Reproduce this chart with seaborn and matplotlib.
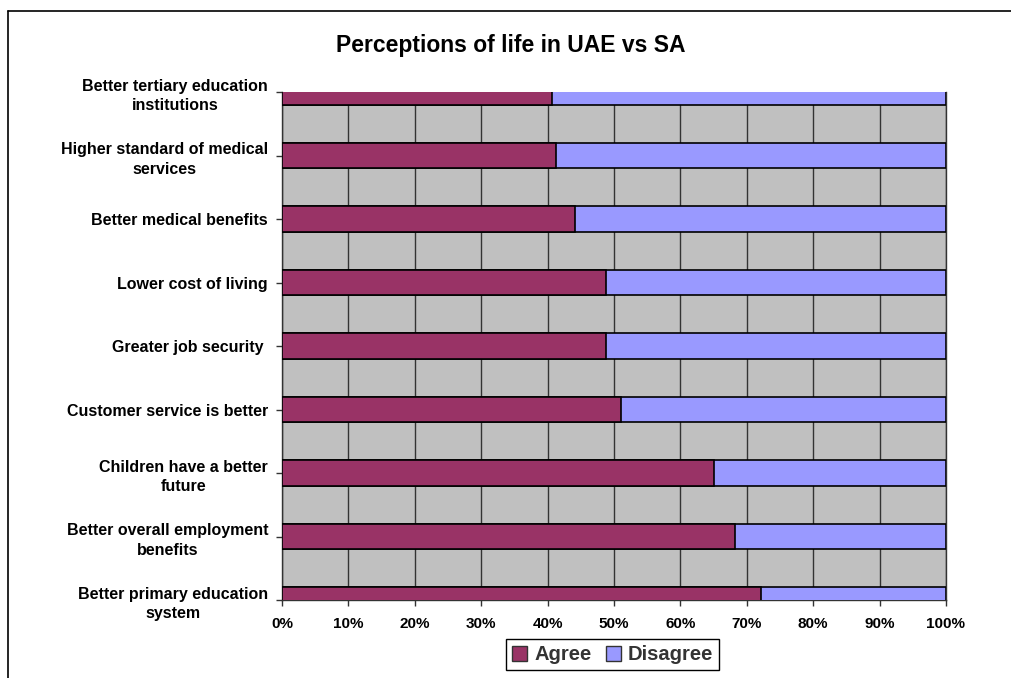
import pandas as pd
import seaborn as sns
import matplotlib.pyplot as plt
from matplotlib.patches import Patch
from matplotlib.lines import Line2D

# --- data (top to bottom) ---
statements = [
    "Better tertiary education\ninstitutions",
    "Higher standard of medical\nservices",
    "Better medical benefits",
    "Lower cost of living",
    "Greater job security ",
    "Customer service is better",
    "Children have a better\nfuture",
    "Better overall employment\nbenefits",
    "Better primary education\nsystem",
]
agree = [40.6, 41.3, 44.2, 48.8, 48.8, 51.0, 65.0, 68.3, 72.2]
disagree = [59.4, 58.7, 55.8, 51.2, 51.2, 49.0, 35.0, 31.7, 27.8]
x_ticks = [0, 10, 20, 30, 40, 50, 60, 70, 80, 90, 100]

agree_col = "#993366"
disagree_col = "#9999FF"

df = pd.DataFrame({"statement": statements, "agree": agree, "disagree": disagree})
df["total"] = df["agree"] + df["disagree"]

sns.set_style("white")
plt.rcParams["font.family"] = ["Liberation Sans", "DejaVu Sans"]
plt.rcParams["text.color"] = "black"
plt.rcParams["xtick.color"] = "black"
plt.rcParams["ytick.color"] = "black"

fig = plt.figure(figsize=(10.11, 6.78), dpi=100)
ax = fig.add_axes([0.2789, 0.1150, 0.6568, 0.7493])
ax.set_facecolor("#C0C0C0")

# --- stacked bars: full bar in disagree colour, agree drawn over it ---
sns.barplot(data=df, y="statement", x="total", color=disagree_col,
            width=0.4, edgecolor="black", linewidth=1.2, saturation=1, ax=ax, zorder=3)
sns.barplot(data=df, y="statement", x="agree", color=agree_col,
            width=0.4, edgecolor="black", linewidth=1.2, saturation=1, ax=ax, zorder=4)

ax.set_xlim(0, 100)
ax.set_ylim(len(statements) - 1, 0)
ax.set_xticks(x_ticks)
ax.set_xticklabels([f"{t}%" for t in x_ticks], fontsize=11, fontweight="bold")
ax.set_yticks(range(len(statements)))
ax.set_yticklabels(statements, fontsize=11.5, fontweight="bold",
                   multialignment="center", linespacing=1.4)
ax.set_xlabel("")
ax.set_ylabel("")
ax.grid(axis="x", color="#333333", linewidth=1, zorder=1)
ax.set_axisbelow(True)
ax.tick_params(axis="both", length=4, width=1, color="#333333", direction="out",
               left=True, bottom=True)
ax.tick_params(axis="x", pad=8)
ax.tick_params(axis="y", pad=6)
for s in ax.spines.values():
    s.set_color("#333333")
    s.set_linewidth(1)
ax.spines["top"].set_visible(False)

fig.text(0.505, 0.933, "Perceptions of life in UAE vs SA", ha="center", va="center",
         fontsize=16.5, fontweight="bold")

# outer chart frame (only left and top edges fall inside the image)
fig.add_artist(Line2D([0.0079, 0.0079], [0.0, 0.984], color="black", linewidth=1.2))
fig.add_artist(Line2D([0.0079, 1.0], [0.984, 0.984], color="black", linewidth=1.2))

handles = [Patch(facecolor=agree_col, edgecolor="#333333", label="Agree"),
           Patch(facecolor=disagree_col, edgecolor="#333333", label="Disagree")]
leg = fig.legend(handles=handles, loc="center", bbox_to_anchor=(0.606, 0.034), ncol=2,
                 frameon=True, fancybox=False, edgecolor="black", framealpha=1,
                 prop={"size": 14.5, "weight": "bold"}, handlelength=0.75, handleheight=0.75,
                 handletextpad=0.35, columnspacing=0.7, borderpad=0.3, borderaxespad=0)
leg.get_frame().set_linewidth(1)
for t in leg.get_texts():
    t.set_color("#333333")

fig.savefig("out.png", dpi=100)
